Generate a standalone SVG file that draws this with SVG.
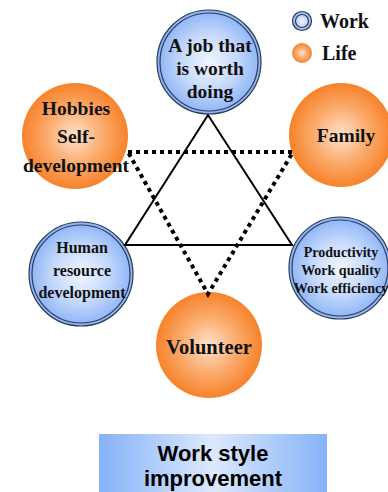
<svg xmlns="http://www.w3.org/2000/svg" width="388" height="492" viewBox="0 0 388 492">
  <defs>
    <radialGradient id="blueFill" cx="50%" cy="50%" r="50%">
      <stop offset="0" stop-color="#f2f6ff"/>
      <stop offset="0.55" stop-color="#c4d8fc"/>
      <stop offset="1" stop-color="#8bb3f7"/>
    </radialGradient>
    <radialGradient id="orangeFill" cx="50%" cy="50%" r="50%">
      <stop offset="0" stop-color="#fde3cf"/>
      <stop offset="0.5" stop-color="#fbae72"/>
      <stop offset="1" stop-color="#f7822a"/>
    </radialGradient>
    <linearGradient id="boxFill" x1="0" y1="0" x2="1" y2="0">
      <stop offset="0" stop-color="#86b2f8"/>
      <stop offset="0.5" stop-color="#dce9fd"/>
      <stop offset="1" stop-color="#86b2f8"/>
    </linearGradient>
  </defs>
  <style>
    .work { fill: url(#blueFill); stroke: #2b3a55; stroke-width: 1.2; }
    .ring { fill: none; stroke: #2b3a55; stroke-width: 1.2; }
    .life { fill: url(#orangeFill); }
    .lbl { font-family: "Liberation Serif", "Times New Roman", serif; font-weight: bold; fill: #111; text-anchor: middle; }
    .key { font-family: "Liberation Serif", "Times New Roman", serif; font-weight: bold; fill: #111; font-size: 20px; }
    .solid { fill: none; stroke: #000; stroke-width: 2; }
    .dotted { fill: none; stroke: #000; stroke-width: 4; stroke-dasharray: 4 4; }
    .box { font-family: "Liberation Sans", Arial, sans-serif; font-weight: bold; font-size: 22px; fill: #000; text-anchor: middle; }
  </style>

  <rect width="388" height="492" fill="#fff"/>

  <!-- legend -->
  <g id="legend">
    <circle class="work" cx="302" cy="21" r="9.5"/>
    <circle class="ring" cx="302" cy="21" r="6.5"/>
    <text class="key" x="320" y="28">Work</text>
    <circle class="life" cx="302" cy="53" r="10"/>
    <text class="key" x="322" y="60">Life</text>
  </g>

  <!-- work-side nodes -->
  <g id="job">
    <circle class="work" cx="209" cy="62" r="52"/>
    <circle class="ring" cx="209" cy="62" r="49"/>
    <text class="lbl" font-size="19.5"><tspan x="210" y="52">A job that</tspan><tspan x="210" y="75">is worth</tspan><tspan x="210" y="98">doing</tspan></text>
  </g>
  <g id="hr">
    <circle class="work" cx="81" cy="274" r="52"/>
    <circle class="ring" cx="81" cy="274" r="49"/>
    <text class="lbl" font-size="16"><tspan x="82" y="253">Human</tspan><tspan x="82" y="276">resource</tspan><tspan x="82" y="298">development</tspan></text>
  </g>
  <g id="productivity">
    <circle class="work" cx="340" cy="268" r="51"/>
    <circle class="ring" cx="340" cy="268" r="48"/>
    <text class="lbl" font-size="14"><tspan x="341" y="257">Productivity</tspan><tspan x="341" y="275">Work quality</tspan><tspan x="341" y="293">Work efficiency</tspan></text>
  </g>

  <!-- life-side nodes -->
  <g id="hobbies">
    <circle class="life" cx="75" cy="136" r="53"/>
    <text class="lbl" font-size="19.5"><tspan x="76" y="115">Hobbies</tspan><tspan x="76" y="143">Self-</tspan><tspan x="76" y="172">development</tspan></text>
  </g>
  <g id="family">
    <circle class="life" cx="341" cy="135" r="52"/>
    <text class="lbl" font-size="19.5" x="346" y="142">Family</text>
  </g>
  <g id="volunteer">
    <circle class="life" cx="209" cy="345" r="53"/>
    <text class="lbl" font-size="20.5" x="209" y="354">Volunteer</text>
  </g>

  <!-- connectors -->
  <g id="connectors">
    <polygon class="solid" points="208,115 125,245 292,245"/>
    <polygon class="dotted" points="128,152 293,152 208,294"/>
  </g>

  <!-- result -->
  <g id="result">
    <rect x="99" y="434" width="228" height="58" fill="url(#boxFill)"/>
    <text class="box"><tspan x="213" y="461">Work style</tspan><tspan x="213" y="486">improvement</tspan></text>
  </g>
</svg>
